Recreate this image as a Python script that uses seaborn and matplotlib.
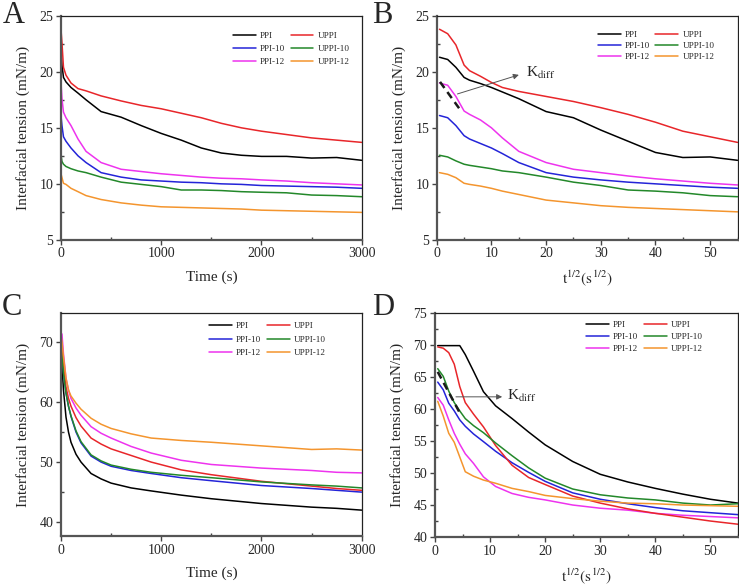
import numpy as np
import pandas as pd
import matplotlib
matplotlib.use('Agg')
from matplotlib import pyplot as plt
from matplotlib.lines import Line2D
from matplotlib.ticker import MultipleLocator
import seaborn as sns

sns.set_theme(style='ticks')
plt.rcParams['font.family'] = ['Liberation Serif', 'DejaVu Serif']
plt.rcParams['mathtext.fontset'] = 'stix'

# Sample names and colours (legend order is column-first)
samples = ['PPI', 'PPI-10', 'PPI-12', 'UPPI', 'UPPI-10', 'UPPI-12']
colors = {'PPI': '#000000', 'UPPI': '#e8262a', 'PPI-10': '#2424d8',
          'UPPI-10': '#23882a', 'PPI-12': '#ee33ee', 'UPPI-12': '#f4952e'}

# Panel A: oil/water interface, tension vs time (s)
a_time = [0, 10, 25, 50, 100, 170, 250, 400, 600, 800, 1000, 1200, 1400,
          1600, 1800, 2000, 2250, 2500, 2750, 3000]
a_ppi = [22.0, 20.6, 19.5, 19.1, 18.6, 18.1, 17.5, 16.45, 15.95, 15.2, 14.5,
         13.9, 13.2, 12.75, 12.55, 12.45, 12.45, 12.3, 12.35, 12.1]
a_uppi = [23.8, 22.6, 20.4, 19.7, 19.0, 18.5, 18.3, 17.85, 17.4, 17.0, 16.7,
          16.3, 15.9, 15.4, 15.0, 14.7, 14.4, 14.1, 13.9, 13.7]
a_ppi10 = [16.1, 15.2, 14.2, 13.8, 13.2, 12.5, 11.9, 11.0, 10.6, 10.35, 10.25,
           10.15, 10.1, 10.0, 9.95, 9.85, 9.8, 9.75, 9.7, 9.6]
a_uppi10 = [12.6, 12.0, 11.75, 11.55, 11.35, 11.15, 11.0, 10.6, 10.15, 9.95,
            9.75, 9.45, 9.45, 9.4, 9.3, 9.25, 9.2, 9.0, 8.95, 8.85]
a_ppi12 = [19.1, 17.6, 16.4, 15.9, 15.2, 14.0, 12.9, 11.9, 11.3, 11.1, 10.9,
           10.75, 10.6, 10.5, 10.45, 10.35, 10.25, 10.1, 10.0, 9.9]
a_uppi12 = [10.9, 10.55, 10.05, 9.95, 9.6, 9.3, 8.95, 8.6, 8.3, 8.1, 7.95,
            7.9, 7.85, 7.8, 7.75, 7.65, 7.6, 7.55, 7.5, 7.45]

# Panel B: same interface vs t^1/2
b_sqrt = [0.5, 2, 3.5, 5, 6, 8, 10, 12, 15, 20, 25, 30, 35, 40, 45, 50, 55]
b_ppi = [21.3, 21.1, 20.4, 19.5, 19.25, 18.95, 18.6, 18.2, 17.6, 16.45, 15.9,
         14.8, 13.8, 12.8, 12.35, 12.4, 12.1]
b_uppi = [23.8, 23.4, 22.4, 20.6, 20.1, 19.6, 19.05, 18.6, 18.25, 17.8, 17.35,
          16.8, 16.2, 15.5, 14.7, 14.2, 13.7]
b_ppi10 = [16.1, 15.9, 15.2, 14.3, 14.0, 13.6, 13.2, 12.7, 11.9, 11.0, 10.6,
           10.35, 10.15, 10.0, 9.85, 9.7, 9.6]
b_uppi10 = [12.55, 12.4, 12.05, 11.75, 11.65, 11.5, 11.35, 11.15, 11.0, 10.6,
            10.15, 9.85, 9.45, 9.35, 9.2, 8.95, 8.85]
b_ppi12 = [19.0, 18.8, 17.8, 16.5, 16.2, 15.7, 15.0, 14.1, 12.9, 11.9, 11.3,
           11.0, 10.7, 10.45, 10.25, 10.05, 9.9]
b_uppi12 = [11.0, 10.85, 10.55, 10.05, 9.95, 9.8, 9.6, 9.35, 9.05, 8.55, 8.3,
            8.05, 7.9, 7.8, 7.7, 7.6, 7.5]

# Panel C: air/water interface vs time (s)
c_time = [0, 10, 25, 50, 75, 100, 150, 200, 300, 400, 500, 700, 900, 1200,
          1500, 2000, 2500, 2750, 3000]
c_ppi = [69.5, 66.0, 62.0, 57.5, 55.0, 53.3, 51.3, 50.0, 48.1, 47.2, 46.5,
         45.7, 45.2, 44.5, 43.9, 43.1, 42.5, 42.3, 42.0]
c_uppi = [71.0, 68.5, 66.0, 62.5, 60.6, 59.3, 57.4, 56.0, 54.0, 53.0, 52.2,
          51.1, 50.0, 48.7, 47.9, 46.8, 46.0, 45.6, 45.3]
c_ppi10 = [70.0, 68.0, 65.0, 61.5, 59.3, 57.6, 55.0, 53.2, 51.0, 50.0, 49.3,
           48.6, 48.1, 47.4, 46.9, 46.1, 45.6, 45.3, 45.0]
c_uppi10 = [69.0, 67.5, 64.8, 61.5, 59.3, 57.7, 55.2, 53.4, 51.2, 50.2, 49.5,
            48.8, 48.3, 47.8, 47.4, 46.7, 46.2, 46.0, 45.7]
c_ppi12 = [71.5, 71.3, 68.0, 64.0, 62.0, 60.6, 59.0, 57.8, 55.9, 54.8, 54.0,
           52.6, 51.5, 50.3, 49.6, 49.0, 48.6, 48.3, 48.2]
c_uppi12 = [71.0, 70.0, 67.5, 64.0, 62.0, 61.0, 59.8, 58.8, 57.3, 56.3, 55.6,
            54.7, 54.0, 53.6, 53.3, 52.7, 52.1, 52.2, 52.0]

# Panel D: air/water interface vs t^1/2
d_sqrt = [0.5, 1.5, 2.5, 3.5, 4.5, 5.5, 7, 8.8, 11, 14, 17, 20, 25, 30, 35,
          40, 45, 50, 55]
d_ppi = [69.9, 69.9, 69.9, 69.9, 69.9, 68.5, 65.9, 62.7, 60.5, 58.5, 56.4,
         54.4, 51.8, 49.8, 48.6, 47.6, 46.7, 45.9, 45.3]
d_uppi = [69.7, 69.5, 68.8, 67.0, 63.5, 61.0, 59.2, 57.2, 54.3, 51.2, 49.3,
          48.2, 46.4, 45.3, 44.4, 43.7, 43.1, 42.5, 42.0]
d_ppi10 = [64.2, 63.0, 60.9, 59.7, 58.3, 57.3, 56.1, 54.9, 53.4, 51.6, 50.1,
           48.7, 46.9, 45.9, 45.2, 44.6, 44.1, 43.8, 43.5]
d_uppi10 = [66.3, 65.1, 62.8, 61.0, 59.7, 58.5, 57.4, 56.3, 54.7, 52.7, 50.8,
            49.2, 47.5, 46.6, 46.1, 45.8, 45.3, 45.0, 45.2]
d_ppi12 = [61.8, 60.6, 58.3, 56.2, 54.5, 53.0, 51.5, 49.4, 47.9, 46.8, 46.2,
           45.8, 45.0, 44.5, 44.2, 43.7, 43.4, 43.2, 43.0]
d_uppi12 = [61.2, 58.9, 56.2, 54.8, 52.5, 50.2, 49.5, 48.9, 48.4, 47.6, 47.1,
            46.5, 46.0, 45.6, 45.3, 45.2, 45.0, 44.9, 44.8]

# K_diff slope segments
b_kd_x, b_kd_y = [0.6, 4.6], [19.1, 16.4]
d_kd_x, d_kd_y = [0.5, 4.5], [65.8, 59.4]


def long_df(x, ppi, uppi, ppi10, uppi10, ppi12, uppi12):
    vals = {'PPI': ppi, 'UPPI': uppi, 'PPI-10': ppi10, 'UPPI-10': uppi10,
            'PPI-12': ppi12, 'UPPI-12': uppi12}
    frames = [pd.DataFrame({'x': x, 'y': vals[s], 'sample': s}) for s in samples]
    return pd.concat(frames, ignore_index=True)


def style_axis(ax, xlim, ylim, xmaj, xmin, ymaj, ymin):
    ax.set_xlim(*xlim)
    ax.set_ylim(*ylim)
    ax.xaxis.set_major_locator(MultipleLocator(xmaj))
    ax.xaxis.set_minor_locator(MultipleLocator(xmin))
    ax.yaxis.set_major_locator(MultipleLocator(ymaj))
    ax.yaxis.set_minor_locator(MultipleLocator(ymin))
    ax.tick_params(which='major', direction='out', length=3.5, width=1,
                   color='#444444', labelsize=10, pad=2)
    ax.tick_params(which='minor', direction='in', length=2.5, width=1,
                   color='#444444')
    for s in ['left', 'bottom']:
        ax.spines[s].set_linewidth(1.6)
        ax.spines[s].set_color('#555555')
    for s in ['top', 'right']:
        ax.spines[s].set_linewidth(0.9)
        ax.spines[s].set_color('#222222')
    ax.set_ylabel('Interfacial tension (mN/m)', fontsize=11, labelpad=7)


def add_legend(ax, anchor, spacing):
    handles = [Line2D([], [], color=colors[s], lw=1.1) for s in samples]
    ax.legend(handles, samples, ncol=2, frameon=False, loc='upper left',
              bbox_to_anchor=anchor, borderpad=0, borderaxespad=0,
              fontsize=6.6, handlelength=2.5, handletextpad=0.45,
              columnspacing=0.6, labelspacing=spacing)


fig = plt.figure(figsize=(7.39, 5.85), dpi=100)
axA = fig.add_axes([0.0825, 0.590, 0.407, 0.383])
axB = fig.add_axes([0.591, 0.590, 0.407, 0.383])
axC = fig.add_axes([0.0825, 0.0838, 0.407, 0.381])
axD = fig.add_axes([0.5886, 0.082, 0.41, 0.383])

panels = [
    (axA, long_df(a_time, a_ppi, a_uppi, a_ppi10, a_uppi10, a_ppi12, a_uppi12)),
    (axB, long_df(b_sqrt, b_ppi, b_uppi, b_ppi10, b_uppi10, b_ppi12, b_uppi12)),
    (axC, long_df(c_time, c_ppi, c_uppi, c_ppi10, c_uppi10, c_ppi12, c_uppi12)),
    (axD, long_df(d_sqrt, d_ppi, d_uppi, d_ppi10, d_uppi10, d_ppi12, d_uppi12)),
]
for ax, df in panels:
    sns.lineplot(data=df, x='x', y='y', hue='sample', hue_order=samples,
                 palette=colors, estimator=None, sort=False, lw=1.1,
                 legend=False, ax=ax)

style_axis(axA, (0, 3000), (5, 25), 1000, 500, 5, 2.5)
style_axis(axB, (0, 55), (5, 25), 10, 5, 5, 2.5)
style_axis(axC, (0, 3000), (37.7, 74.8), 1000, 500, 10, 5)
style_axis(axD, (0, 55), (40, 75), 10, 5, 5, 2.5)

for ax in [axA, axC]:
    ax.set_xlabel('Time (s)', fontsize=11, labelpad=7)
for ax in [axB, axD]:
    ax.set_xlabel(r'$\mathrm{t^{1/2}(s^{1/2})}$', fontsize=11, labelpad=6)

add_legend(axA, (0.571, 0.93), 0.5)
add_legend(axB, (0.535, 0.935), 0.28)
add_legend(axC, (0.492, 0.96), 0.55)
add_legend(axD, (0.498, 0.966), 0.4)

# K_diff marks
axB.plot(b_kd_x, b_kd_y, color='k', lw=1.8, ls=(0, (3, 2)))
axB.annotate('', xy=(15.5, 19.8), xytext=(3.3, 17.95),
             arrowprops=dict(arrowstyle='-|>', color='#555555', lw=0.7,
                             mutation_scale=8))
axB.text(16.3, 19.9, r'K$_{\mathrm{diff}}$', fontsize=11, va='center')
axD.plot(d_kd_x, d_kd_y, color='k', lw=1.8, ls=(0, (3, 2)))
axD.annotate('', xy=(12.7, 61.9), xytext=(3.3, 61.9),
             arrowprops=dict(arrowstyle='-|>', color='#555555', lw=0.7,
                             mutation_scale=8))
axD.text(13.1, 62.0, r'K$_{\mathrm{diff}}$', fontsize=11, va='center')

# Panel letters
fig.text(0.004, 0.961, 'A', fontsize=22)
fig.text(0.504, 0.961, 'B', fontsize=22)
fig.text(0.003, 0.4615, 'C', fontsize=22)
fig.text(0.503, 0.4615, 'D', fontsize=22)

plt.savefig('out.png', dpi=100)
